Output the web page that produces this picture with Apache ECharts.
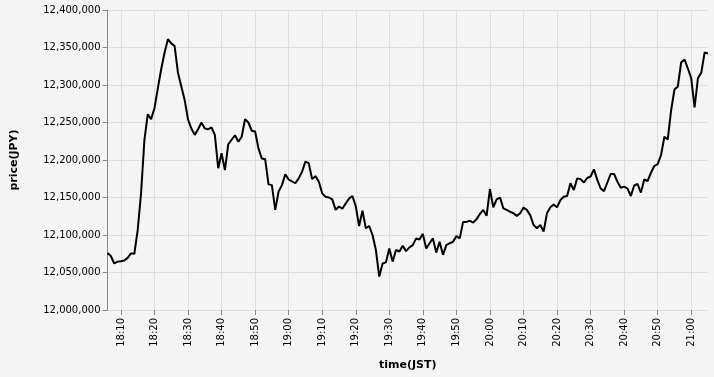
<!DOCTYPE html>
<html>
<head>
<meta charset="utf-8">
<script src="https://cdn.jsdelivr.net/npm/echarts@6/dist/echarts.min.js"></script>
<style>
html,body{margin:0;padding:0;background:#f4f4f4;}
#chart{width:714px;height:377px;}
</style>
</head>
<body>
<div id="chart"></div>
<script>
// first sample time, one sample per minute
const startTime = "18:06";
const stepMinutes = 1;

// price (JPY) per minute
const prices = [
  12076000, 12072000, 12062000, 12064500, 12065000, 12066000, 12069500, 12075500, 12075000, 12106500,
  12155500, 12226500, 12261000, 12254500, 12269000, 12295500, 12321000, 12343000, 12361000, 12355500,
  12352000, 12316500, 12298000, 12280000, 12254000, 12242000, 12233500, 12241000, 12250000, 12242000,
  12241000, 12243500, 12233500, 12189000, 12209000, 12186500, 12221000, 12227000, 12233000, 12224500,
  12231000, 12254500, 12250000, 12239000, 12238000, 12215500, 12202000, 12201000, 12167500, 12166500,
  12133500, 12158000, 12166500, 12181000, 12174000, 12171500, 12169000, 12175500, 12184500, 12198000,
  12195500, 12174500, 12178500, 12171000, 12155500, 12151000, 12150000, 12147500, 12133500, 12138000,
  12135000, 12142000, 12148500, 12152000, 12138500, 12112000, 12132500, 12109000, 12112000, 12100000,
  12080000, 12044500, 12062000, 12063500, 12082000, 12064500, 12080000, 12078000, 12085500, 12078500,
  12083500, 12086500, 12095500, 12094000, 12101500, 12082000, 12089000, 12095500, 12076500, 12091000,
  12073500, 12086500, 12089000, 12091000, 12098500, 12095500, 12117500, 12117500, 12119000, 12116500,
  12121000, 12128000, 12133500, 12125500, 12161000, 12137000, 12147500, 12150000, 12135500, 12133500,
  12131000, 12129000, 12125500, 12129000, 12136500, 12133500, 12126500, 12113500, 12109000, 12113500,
  12104500, 12129000, 12137000, 12140500, 12137000, 12146500, 12151000, 12152000, 12169000, 12160000,
  12175500, 12174500, 12170000, 12176000, 12178000, 12187500, 12173500, 12162000, 12158500, 12170000,
  12181500, 12181500, 12171000, 12163000, 12164500, 12162000, 12152000, 12166000, 12168000, 12156500,
  12174000, 12172000, 12183000, 12192000, 12194500, 12206500, 12231000, 12227500, 12266000, 12294000,
  12298000, 12330000, 12334000, 12322000, 12309000, 12270000, 12309000, 12316500, 12343500, 12342000
];

const xTickLabels = ["18:10","18:20","18:30","18:40","18:50","19:00","19:10","19:20","19:30",
  "19:40","19:50","20:00","20:10","20:20","20:30","20:40","20:50","21:00"];
const yMin = 12000000;
const yMax = 12400000;
const yStep = 50000;

function toMin(s){ const p = s.split(':').map(Number); return p[0]*60 + p[1]; }
function fmtTime(v){
  const h = Math.floor(v/60), m = Math.round(v - h*60);
  return h + ':' + String(m).padStart(2,'0');
}
const t0 = toMin(startTime);
const data = prices.map((p,i) => [t0 + i*stepMinutes, p]);
const xTicks = xTickLabels.map(toMin);

const FONT = "'DejaVu Sans', sans-serif";
const chart = echarts.init(document.getElementById('chart'), null, {renderer:'canvas'});
chart.setOption({
  backgroundColor: '#f4f4f4',
  animation: false,
  grid: {left: 107.5, right: 6, top: 10, bottom: 67},
  xAxis: {
    type: 'value',
    min: t0,
    max: t0 + (prices.length-1)*stepMinutes,
    name: 'time(JST)',
    nameLocation: 'middle',
    nameGap: 50,
    nameTextStyle: {fontFamily: FONT, fontSize: 11, fontWeight: 'bold', color: '#000'},
    axisLine: {show: false},
    axisTick: {show: true, length: 5, customValues: xTicks, lineStyle: {color: '#888'}},
    axisLabel: {customValues: xTicks, rotate: 90, margin: 8, formatter: fmtTime,
      fontFamily: FONT, fontSize: 10, color: '#000'},
    splitLine: {show: true, lineStyle: {color: '#ddd', width: 1}}
  },
  yAxis: {
    type: 'value',
    min: yMin, max: yMax, interval: yStep,
    name: 'price(JPY)',
    nameLocation: 'middle',
    nameGap: 88,
    nameTextStyle: {fontFamily: FONT, fontSize: 11, fontWeight: 'bold', color: '#000'},
    axisLine: {show: true, lineStyle: {color: '#888', width: 1}},
    axisTick: {show: true, length: 5, lineStyle: {color: '#888'}},
    axisLabel: {margin: 7, fontFamily: FONT, fontSize: 10, color: '#000',
      formatter: v => v.toLocaleString('en-US')},
    splitLine: {show: true, lineStyle: {color: '#ddd', width: 1}}
  },
  series: [{
    type: 'line',
    data: data,
    showSymbol: false,
    symbol: 'none',
    lineStyle: {color: '#000', width: 2},
    emphasis: {disabled: true}
  }]
});
</script>
</body>
</html>
